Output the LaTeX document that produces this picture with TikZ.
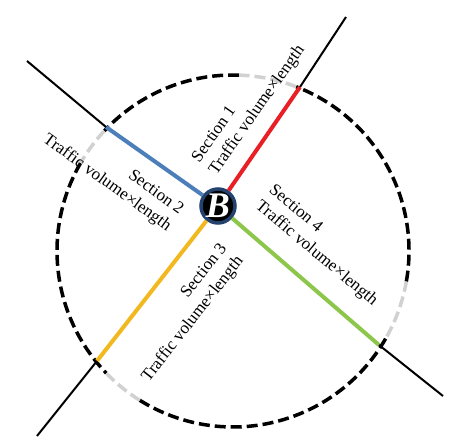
\documentclass[tikz,border=0pt]{standalone}
\usepackage{fontspec}
\setmainfont{Liberation Serif}
\usetikzlibrary{positioning, calc}
\definecolor{roadred}{RGB}{232,32,38}
\definecolor{roadblue}{RGB}{76,126,186}
\definecolor{roadyellow}{RGB}{242,184,32}
\definecolor{roadgreen}{RGB}{140,198,74}
\definecolor{hubring}{RGB}{36,66,110}
\tikzstyle{road} = [line width=2pt, black]
\tikzstyle{section} = [line width=4pt]
\tikzstyle{ring} = [line width=3.5pt, dash pattern=on 11pt off 5pt]
\tikzstyle{graydash} = [ring, black!18]
\tikzstyle{label} = [font=\fontsize{17}{21}\selectfont, inner sep=0]
\tikzstyle{hubnode} = [circle, fill=black, draw=hubring, line width=3.5pt, minimum size=34pt, inner sep=0, text=white, font=\fontsize{36}{36}\selectfont\bfseries\itshape]

\begin{document}
\begin{tikzpicture}[x=1pt, y=1pt]
    \useasboundingbox (0,0) rectangle (450,442);
    \coordinate (c) at (233,191);
    % dashed boundary
    \foreach \a/\b in {88/137, 150/224, 238/331, 350/429}
        \draw[ring] (c) ++(\a:176) arc[start angle=\a, end angle=\b, radius=176];
    \foreach \a/\b in {69/88, 137/150, 224/238, 331/350}
        \draw[graydash] (c) ++(\a:176) arc[start angle=\a, end angle=\b, radius=176];

    \node[hubnode] (hub) at (218,236) {B};
    \coordinate (j1) at (300,355);
    \coordinate (j2) at (106,315);
    \coordinate (j3) at (97,81);
    \coordinate (j4) at (379,97);
    \coordinate (e1) at (346,425);
    \coordinate (e2) at (27,381);
    \coordinate (e3) at (37,6);
    \coordinate (e4) at (443,46);

    \draw[section, roadred] (hub) -- (j1);
    \draw[section, roadblue] (hub) -- (j2);
    \draw[section, roadyellow] (hub) -- (j3);
    \draw[section, roadgreen] (hub) -- (j4);
    \draw[road] (j1) -- (e1);
    \draw[road] (j2) -- (e2);
    \draw[road] (j3) -- (e3);
    \draw[road] (j4) -- (e4);

    \node[label, rotate=55, align=left] (sec1) at (249,338) {Section 1\\Traffic volume×length};
    \node[label, rotate=-36, align=right] (sec2) at (113,267) {Section 2\\Traffic volume×length};
    \node[label, rotate=52, align=right] (sec3) at (185,129) {Section 3\\Traffic volume×length};
    \node[label, rotate=-40, align=left] (sec4) at (323,196) {Section 4\\Traffic volume×length};
\end{tikzpicture}
\end{document}
